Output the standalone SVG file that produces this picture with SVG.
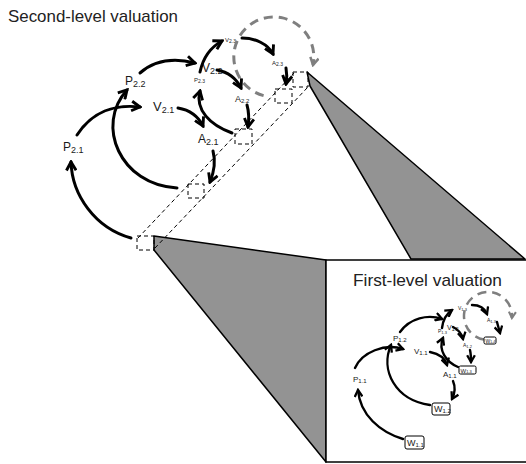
<svg xmlns="http://www.w3.org/2000/svg" width="526" height="464" viewBox="0 0 526 464">
<style>
.t{font-family:"Liberation Sans",Arial,sans-serif;fill:#1a1a1a}
.title{font-size:17px;fill:#222}
.a{fill:none;stroke:#000;stroke-width:3;stroke-linecap:round;marker-end:url(#ah)}
.ai{fill:none;stroke:#000;stroke-width:2.4;stroke-linecap:round;marker-end:url(#ah)}
.dc{fill:none;stroke:#7f7f7f;stroke-dasharray:9 6;marker-end:url(#ahg)}
.db{fill:none;stroke:#000;stroke-width:1;stroke-dasharray:4 3}
.wedge{fill:#939393;stroke:#000;stroke-width:1.5;stroke-linejoin:round}
.wb{fill:#fff;stroke:#000;stroke-width:1}
</style>
<defs>
<marker id="ah" viewBox="0 0 10 10" refX="8" refY="5" markerWidth="4" markerHeight="4" orient="auto">
<path d="M1,1 L8,5 L1,9" fill="none" stroke="#000" stroke-width="2.4" stroke-linejoin="miter"/>
</marker>
<marker id="ahg" viewBox="0 0 10 10" refX="8" refY="5" markerWidth="3.5" markerHeight="3.5" orient="auto">
<path d="M1,1 L8,5 L1,9" fill="none" stroke="#7f7f7f" stroke-width="2.4"/>
</marker>
</defs>
<rect width="526" height="464" fill="#fff"/>

<g id="wedges">
<polygon class="wedge" points="307,72 525,259 411,259 310,86"/>
<polygon class="wedge" points="154,236 326,260 326,462 154,250"/>
<rect x="326" y="260" width="202" height="202" fill="#fff" stroke="#000" stroke-width="1.5"/>
</g>

<text class="t title" x="8" y="22" textLength="170" lengthAdjust="spacingAndGlyphs">Second-level valuation</text>

<g id="band">
<line class="db" x1="138" y1="238" x2="294" y2="73"/>
<line class="db" x1="155" y1="248" x2="308" y2="87"/>
<rect class="db" x="137" y="236" width="17" height="14"/>
<rect class="db" x="188" y="184" width="16" height="14"/>
<rect class="db" x="235" y="129" width="17" height="15"/>
<rect class="db" x="275" y="89" width="17" height="14"/>
<rect class="db" x="293" y="72" width="15" height="15"/>
</g>

<g id="P21"><text class="t" x="63" y="151" font-size="12">P<tspan dy="2" font-size="9">2.1</tspan></text></g>
<g id="P22"><text class="t" x="125" y="85" font-size="12">P<tspan dy="2" font-size="9">2.2</tspan></text></g>
<g id="V21"><text class="t" x="153" y="111" font-size="13">V<tspan dy="2" font-size="9">2.1</tspan></text></g>
<g id="A21"><text class="t" x="198" y="143" font-size="12">A<tspan dy="2" font-size="9">2.1</tspan></text></g>
<g id="V22"><text class="t" x="202" y="72" font-size="12">V<tspan dy="2" font-size="9">2.2</tspan></text></g>
<g id="P23"><text class="t" x="194" y="82" font-size="6">P<tspan dy="1" font-size="5">2.3</tspan></text></g>
<g id="A22"><text class="t" x="235" y="102" font-size="9">A<tspan dy="1" font-size="6">2.2</tspan></text></g>
<g id="V23"><text class="t" x="225" y="42" font-size="6">V<tspan dy="1" font-size="5">2.3</tspan></text></g>
<g id="A23"><text class="t" x="272" y="65" font-size="6">A<tspan dy="1" font-size="5">2.3</tspan></text></g>

<g id="connectors">
<path class="dc" stroke-width="3" d="M263.6,95.6 A40,40 0 1 1 313,65"/>
<path class="a" d="M131,238 C95,228 72,195 71,162"/>
<path class="a" d="M77,135 C92,112 115,104 140,107"/>
<path class="a" d="M177,188 C120,185 95,125 127,90"/>
<path class="a" d="M140,73 C155,60 175,58 195,63"/>
<path class="a" d="M178,108 C190,110 198,116 203,126"/>
<path class="a" d="M213,151 C216,162 214,172 210,182"/>
<path class="a" d="M232,133 C210,125 195,110 200,91"/>
<path class="a" d="M200,72 C203,58 211,47 222,41"/>
<path class="a" d="M217,70 C228,72 236,78 241,88"/>
<path class="a" d="M247,105 C249,112 249,120 248,127"/>
<path class="a" d="M242,38 C255,38 268,44 273,54"/>
<path class="a" d="M286,68 C287,73 287,78 286,84"/>

<path class="dc" stroke-width="2.5" stroke-dasharray="6 4" d="M483.8,339.6 A24,24 0 1 1 511.9,318"/>
<path class="ai" d="M403,439 C380,432 360,415 358,390"/>
<path class="ai" d="M355,368 C362,352 385,343 403,349"/>
<path class="ai" d="M430,405 C395,400 380,370 391,345"/>
<path class="ai" d="M400,332 C410,318 428,314 442,319"/>
<path class="ai" d="M430,352 C440,354 445,358 447,365"/>
<path class="ai" d="M453,381 C456,388 455,393 452,399"/>
<path class="ai" d="M458,367 C446,362 438,350 443,338"/>
<path class="ai" d="M442,328 C443,320 446,314 452,310"/>
<path class="ai" d="M453,327 C459,330 462,334 463,339"/>
<path class="ai" d="M470,350 C471,354 471,358 471,362"/>
<path class="ai" d="M472,305 C480,305 485,309 487,314"/>
<path class="ai" d="M497,322 C498,326 499,329 500,333"/>
</g>

<text class="t title" x="353" y="286" textLength="149" lengthAdjust="spacingAndGlyphs">First-level valuation</text>

<g id="P11"><text class="t" x="353" y="382" font-size="8">P<tspan dy="1" font-size="6">1.1</tspan></text></g>
<g id="P12"><text class="t" x="393" y="341" font-size="8">P<tspan dy="1" font-size="6">1.2</tspan></text></g>
<g id="V11"><text class="t" x="414" y="354" font-size="8">V<tspan dy="1" font-size="6">1.1</tspan></text></g>
<g id="A11"><text class="t" x="443" y="377" font-size="8">A<tspan dy="1" font-size="6">1.1</tspan></text></g>
<g id="P13"><text class="t" x="438" y="333" font-size="5">P<tspan dy="1" font-size="4">1.3</tspan></text></g>
<g id="V12"><text class="t" x="447" y="330" font-size="7">V<tspan dy="1" font-size="5">1.2</tspan></text></g>
<g id="A12"><text class="t" x="463" y="347" font-size="5">A<tspan dy="1" font-size="4">1.2</tspan></text></g>
<g id="V13"><text class="t" x="458" y="310" font-size="5">V<tspan dy="1" font-size="4">1.3</tspan></text></g>
<g id="A13"><text class="t" x="487" y="322" font-size="5">A<tspan dy="1" font-size="4">1.3</tspan></text></g>

<g id="W11"><rect class="wb" x="405" y="436" width="19" height="13" rx="2"/><text class="t" x="407" y="446" font-size="9">W<tspan dy="1" font-size="6">1.1</tspan></text></g>
<g id="W12"><rect class="wb" x="432" y="403" width="18" height="12" rx="2"/><text class="t" x="434" y="412" font-size="9">W<tspan dy="1" font-size="6">1.2</tspan></text></g>
<g id="W13"><rect class="wb" x="459" y="366" width="17" height="8" rx="1.5"/><text class="t" x="460.5" y="372.5" font-size="6">W<tspan dy="0.5" font-size="4">1.3</tspan></text></g>
<g id="W14"><rect class="wb" x="484" y="337" width="12" height="7" rx="1.5"/><text class="t" x="485.5" y="342.5" font-size="5">W<tspan dy="0.5" font-size="3.5">1.4</tspan></text></g>
</svg>
